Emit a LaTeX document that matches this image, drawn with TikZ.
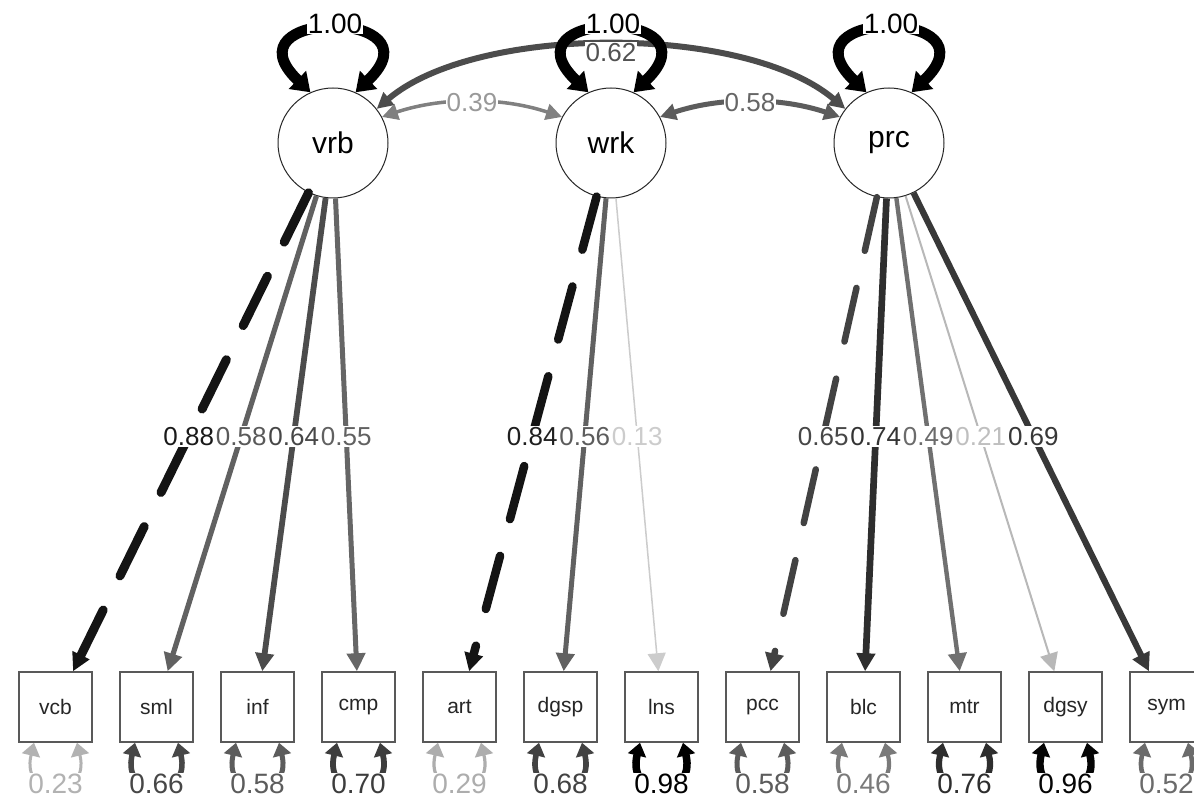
\documentclass[tikz,border=0pt]{standalone}
\usepackage{fontspec}
\setmainfont{Liberation Sans}
\usetikzlibrary{arrows.meta,calc}
\tikzset{
  lat/.style={circle, draw=black!85, line width=1pt, fill=white, minimum size=110pt, inner sep=0pt, font=\fontsize{30pt}{30pt}\selectfont},
  man/.style={rectangle, draw=black!65, line width=1.5pt, fill=white, minimum width=73pt, minimum height=70pt, inner sep=0pt, font=\fontsize{21pt}{21pt}\selectfont, text=black!85},
  ldarr/.style={arrows={-Triangle[length=18pt,width=18pt]}},
  covarr/.style={arrows={Triangle[length=16pt,width=16pt]-Triangle[length=16pt,width=16pt]}},
  latarr/.style={line width=11pt, draw=black, arrows={Triangle[length=18pt,width=24pt]-Triangle[length=18pt,width=24pt]}},
  resarr/.style={arrows={Triangle[length=13pt,width=18pt]-Triangle[length=13pt,width=18pt]}},
  dashedge/.style={dash pattern=on 55pt off 38pt, line cap=round},
  lab/.style={fill=white, inner sep=1pt, text height=19pt, text depth=0pt, font=\fontsize{26pt}{26pt}\selectfont},
  rlab/.style={fill=white, inner sep=1pt, text height=20pt, text depth=0pt, font=\fontsize{28pt}{28pt}\selectfont},
  llab/.style={fill=white, inner sep=1pt, text height=20pt, text depth=0pt, font=\fontsize{28pt}{28pt}\selectfont, text=black}
}
\newcommand\residloop[4]{%
  \draw[resarr, draw=black!#2, line width=#3pt] (#1.-121) .. controls +(-14,58) and +(14,58) .. (#1.-59);
  \node[rlab, text=black!#2] at ($(#1.south)+(0,41)$) {#4};}
\newcommand\latloop[1]{%
  \draw[latarr] (#1.114) .. controls +(-88,-84) and +(88,-84) .. (#1.66);
  \node[llab] at ($(#1.north)+(2,-64)$) {1.00};}
\begin{document}
\begin{tikzpicture}[x=1pt,y=-1pt]
\useasboundingbox (0,0) rectangle (1194,799);
\clip (0,0) rectangle (1194,799);
\fill[white] (0,0) rectangle (1194,799);
% latent variables
\node[lat] (vrb) at (333,143) {vrb};
\node[lat] (wrk) at (611,143) {wrk};
\node[lat] (prc) at (889,143) {prc};
% manifest variables
\foreach \n/\x in {vcb/55.5, sml/156.5, inf/257.5, cmp/358.5, art/459.5, dgsp/560.5, lns/661.5, pcc/762.5, blc/863.5, mtr/964.5, dgsy/1065.5, sym/1166.5}
  \node[man] (\n) at (\x,707) {\n};
% covariances
\draw[covarr, draw=black!70, line width=6pt] (vrb.38) .. controls +(100,-85) and +(-100,-85) .. (prc.142) coordinate[pos=0.5] (c62);
\draw[covarr, draw=black!50, line width=3.5pt] (vrb.28) .. controls +(60,-20) and +(-60,-20) .. (wrk.152) coordinate[pos=0.5] (c39);
\draw[covarr, draw=black!64, line width=5pt] (wrk.28) .. controls +(60,-20) and +(-60,-20) .. (prc.152) coordinate[pos=0.5] (c58);
% variance loops of latents
\latloop{vrb}
\latloop{wrk}
\latloop{prc}
\node[lab, text=black!68] at ($(c62)+(0,7)$) {0.62};
\node[lab, text=black!40] at (c39) {0.39};
\node[lab, text=black!60] at (c58) {0.58};
% loadings
\draw[ldarr, dashedge, draw=black!92, line width=9pt] (vrb) -- (vcb);
\draw[ldarr, draw=black!62, line width=5.2pt] (vrb) -- (sml);
\draw[ldarr, draw=black!70, line width=5.8pt] (vrb) -- (inf);
\draw[ldarr, draw=black!60, line width=5pt] (vrb) -- (cmp);
\draw[ldarr, dashedge, draw=black!92, line width=8.5pt] (wrk) -- (art);
\draw[ldarr, draw=black!62, line width=5pt] (wrk) -- (dgsp);
\draw[ldarr, draw=black!20, line width=1.5pt] (wrk) -- (lns);
\draw[ldarr, dashedge, draw=black!74, line width=6.5pt] (prc) -- (pcc);
\draw[ldarr, draw=black!82, line width=6.7pt] (prc) -- (blc);
\draw[ldarr, draw=black!56, line width=4.4pt] (prc) -- (mtr);
\draw[ldarr, draw=black!28, line width=2pt] (prc) -- (dgsy);
\draw[ldarr, draw=black!78, line width=6.2pt] (prc) -- (sym);
% loading labels
\node[lab, text=black!90] at ($(vrb)!0.52!(vcb)$) {0.88};
\node[lab, text=black!65] at ($(vrb)!0.52!(sml)$) {0.58};
\node[lab, text=black!72] at ($(vrb)!0.52!(inf)$) {0.64};
\node[lab, text=black!62] at ($(vrb)!0.52!(cmp)$) {0.55};
\node[lab, text=black!88] at ($(wrk)!0.52!(art)$) {0.84};
\node[lab, text=black!64] at ($(wrk)!0.52!(dgsp)$) {0.56};
\node[lab, text=black!20] at ($(wrk)!0.52!(lns)$) {0.13};
\node[lab, text=black!72] at ($(prc)!0.52!(pcc)$) {0.65};
\node[lab, text=black!80] at ($(prc)!0.52!(blc)$) {0.74};
\node[lab, text=black!58] at ($(prc)!0.52!(mtr)$) {0.49};
\node[lab, text=black!25] at ($(prc)!0.52!(dgsy)$) {0.21};
\node[lab, text=black!78] at ($(prc)!0.52!(sym)$) {0.69};
% residuals
\residloop{vcb}{30}{3}{0.23}
\residloop{sml}{72}{5.5}{0.66}
\residloop{inf}{64}{5}{0.58}
\residloop{cmp}{76}{5.8}{0.70}
\residloop{art}{32}{3.2}{0.29}
\residloop{dgsp}{74}{5.6}{0.68}
\residloop{lns}{100}{7.5}{0.98}
\residloop{pcc}{64}{5}{0.58}
\residloop{blc}{52}{4.2}{0.46}
\residloop{mtr}{82}{6.2}{0.76}
\residloop{dgsy}{98}{7.4}{0.96}
\residloop{sym}{58}{4.6}{0.52}
\end{tikzpicture}
\end{document}
